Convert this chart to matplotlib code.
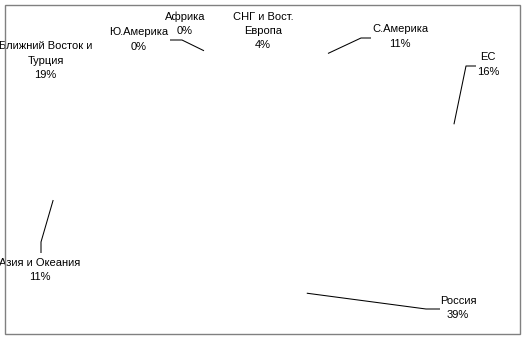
"""
Export shares by region drawn as an unfilled pie: only the percentage
labels and their leader lines are visible, as in the original Excel chart.
"""
import matplotlib

matplotlib.use("Agg")
import matplotlib.pyplot as plt
import numpy as np
from matplotlib.patches import Rectangle

regions = [
    "СНГ и Вост.\nЕвропа",
    "С.Америка",
    "ЕС",
    "Россия",
    "Азия и Океания",
    "Ближний Восток и\nТурция",
    "Ю.Америка",
    "Африка",
]
shares = [4, 11, 16, 39, 11, 19, 0, 0]

# label block centres in reference pixels (x right, y down)
label_x = [263, 400, 488, 458, 40, 45.5, 139, 185]
label_y = [31, 36.5, 64.5, 308, 270, 60.5, 39.5, 23.5]
# leader lines: elbow + end next to the label (None = no leader drawn)
leader_elbow = [None, (361, 38), (466, 66), (426, 309), (41, 242), None, None, (182, 40)]
leader_end = [None, (371, 38), (476, 66), (440, 309), (41, 253), None, None, (170, 40)]

W, H = 526, 339
# pie is seen as an ellipse (3D tilt): centre and radii in pixels
CX, CY, RX, RY = 258.6, 171.5, 211.0, 125.0
START = 90 + 15  # first slice starts 15 deg left of 12 o'clock


def to_data(px, py):
    return (px - CX) / RX, (CY - py) / RY


fig = plt.figure(figsize=(W / 100, H / 100), dpi=100)
ax = fig.add_axes([0, 0, 1, 1])

wedges, _ = ax.pie(
    shares,
    startangle=START,
    counterclock=False,
    colors=["white"] * len(shares),
    wedgeprops={"edgecolor": "none"},
)
ax.set_aspect("auto")
ax.set_xlim(-CX / RX, (W - CX) / RX)
ax.set_ylim((CY - H) / RY, CY / RY)
ax.axis("off")

for i, wedge in enumerate(wedges):
    tx, ty = to_data(label_x[i], label_y[i])
    ax.text(
        tx,
        ty,
        f"{regions[i]}\n{shares[i]}%",
        ha="center",
        va="center",
        fontsize=8,
        family="Liberation Sans",
        linespacing=1.55,
        color="black",
    )
    if leader_elbow[i] is None:
        continue
    # leader starts on the slice edge at the middle of its arc
    mid = np.deg2rad((wedge.theta1 + wedge.theta2) / 2)
    ex, ey = to_data(*leader_elbow[i])
    nx, ny = to_data(*leader_end[i])
    ax.plot(
        [np.cos(mid), ex, nx],
        [np.sin(mid), ey, ny],
        color="black",
        linewidth=0.75,
        solid_capstyle="butt",
    )

# grey chart-area border
fig.add_artist(
    Rectangle(
        (5 / W, 1 - 333.5 / H),
        515 / W,
        328.5 / H,
        transform=fig.transFigure,
        fill=False,
        edgecolor="#808080",
        linewidth=1.0,
    )
)

fig.savefig("out.png", dpi=100)
